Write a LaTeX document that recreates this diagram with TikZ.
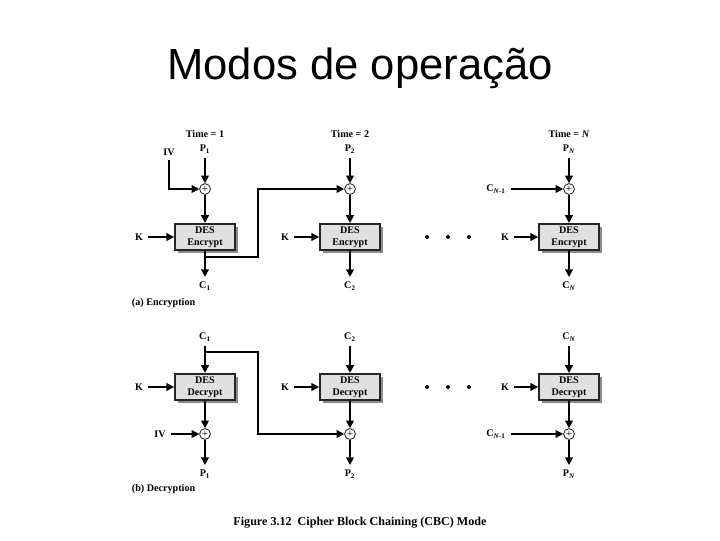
\documentclass[tikz,border=0pt]{standalone}
\usepackage{fontspec}
\setmainfont{Liberation Serif}
\newfontfamily\titlefont{Liberation Sans}
\usetikzlibrary{positioning,calc,arrows.meta,shadows}

\begin{document}
\begin{tikzpicture}[x=0.025cm,y=-0.025cm,
    font=\fontsize{7.2}{8.5}\selectfont\bfseries,
    >={Triangle[length=5.5pt,width=5.5pt]},
    desbox/.style={draw=black!85, line width=1.2pt, fill=black!12,
        minimum width=1.5cm, minimum height=0.66cm, align=center, inner sep=0pt,
        drop shadow={shadow xshift=2pt, shadow yshift=-2pt, fill=black!45, opacity=1}},
    xorop/.style={circle, draw, fill=white, minimum size=0.27cm, inner sep=0pt,
        line width=0.5pt, font=\fontsize{8}{8}\selectfont\mdseries},
    flow/.style={->, line width=1.2pt}]
    \useasboundingbox (0,0) rectangle (720,540);

    % Title
    \node[font=\titlefont\mdseries\fontsize{31}{36}\selectfont] (title) at (360,68) {Modos de operação};

    % Encryption, column 1
    \node (t1) at (205,134) {Time = 1};
    \node (p1) at (205,149) {P\textsubscript{1}};
    \node[xorop] (x1) at (205,189) {+};
    \node[desbox] (e1) at (205,237) {DES\\Encrypt};
    \node (c1) at (205,286) {C\textsubscript{1}};
    \node (iv1) at (169,152) {IV};
    \node (k1) at (139,237) {K};
    \draw[flow] (p1) -- (x1);
    \draw[flow] (x1) -- (e1);
    \draw[flow] (e1) -- (c1);
    \draw[flow] (iv1.south) |- (x1.west);
    \draw[flow] (k1) -- (e1);

    % Encryption, column 2
    \node (t2) at (350,134) {Time = 2};
    \node (p2) at (350,149) {P\textsubscript{2}};
    \node[xorop] (x2) at (350,189) {+};
    \node[desbox] (e2) at (350,237) {DES\\Encrypt};
    \node (c2) at (350,286) {C\textsubscript{2}};
    \node (k2) at (285,237) {K};
    \draw[flow] (p2) -- (x2);
    \draw[flow] (x2) -- (e2);
    \draw[flow] (e2) -- (c2);
    \draw[flow] (k2) -- (e2);

    % Encryption, column N
    \node (tn) at (569,134) {Time = \textit{N}};
    \node (pn) at (569,149) {P\textsubscript{\textit{N}}};
    \node[xorop] (xn) at (569,189) {+};
    \node[desbox] (en) at (569,237) {DES\\Encrypt};
    \node (cn) at (569,286) {C\textsubscript{\textit{N}}};
    \node (kn) at (505,237) {K};
    \node (cprev) at (496,189) {C\textsubscript{\textit{N}-1}};
    \draw[flow] (pn) -- (xn);
    \draw[flow] (xn) -- (en);
    \draw[flow] (en) -- (cn);
    \draw[flow] (kn) -- (en);
    \draw[flow] (cprev) -- (xn);

    % Chaining C1 -> column 2
    \coordinate (f1) at (205,257);
    \coordinate (f2) at (258,257);
    \draw[flow] (f1) -- (f2) |- (x2);

    % Dots
    \foreach \x in {427,448,469}
        \fill (\x,237) circle (2);

    \node[anchor=west] (enc) at (127,303) {(a) Encryption};

    % Decryption, column 1
    \node (dc1) at (205,337) {C\textsubscript{1}};
    \node[desbox] (d1) at (205,387) {DES\\Decrypt};
    \node[xorop] (dx1) at (205,434) {+};
    \node (dp1) at (205,474) {P\textsubscript{1}};
    \node (div) at (160,434) {IV};
    \node (dk1) at (139,387) {K};
    \draw[flow] (dc1) -- (d1);
    \draw[flow] (d1) -- (dx1);
    \draw[flow] (dx1) -- (dp1);
    \draw[flow] (div) -- (dx1);
    \draw[flow] (dk1) -- (d1);

    % Decryption, column 2
    \node (dc2) at (350,337) {C\textsubscript{2}};
    \node[desbox] (d2) at (350,387) {DES\\Decrypt};
    \node[xorop] (dx2) at (350,434) {+};
    \node (dp2) at (350,474) {P\textsubscript{2}};
    \node (dk2) at (285,387) {K};
    \draw[flow] (dc2) -- (d2);
    \draw[flow] (d2) -- (dx2);
    \draw[flow] (dx2) -- (dp2);
    \draw[flow] (dk2) -- (d2);

    % Decryption, column N
    \node (dcn) at (569,337) {C\textsubscript{\textit{N}}};
    \node[desbox] (dn) at (569,387) {DES\\Decrypt};
    \node[xorop] (dxn) at (569,434) {+};
    \node (dpn) at (569,474) {P\textsubscript{\textit{N}}};
    \node (dkn) at (505,387) {K};
    \node (dcprev) at (496,434) {C\textsubscript{\textit{N}-1}};
    \draw[flow] (dcn) -- (dn);
    \draw[flow] (dn) -- (dxn);
    \draw[flow] (dxn) -- (dpn);
    \draw[flow] (dkn) -- (dn);
    \draw[flow] (dcprev) -- (dxn);

    % Chaining C1 -> column 2
    \coordinate (g1) at (205,352);
    \coordinate (g2) at (258,352);
    \draw[flow] (g1) -- (g2) |- (dx2);

    % Dots
    \foreach \x in {427,448,469}
        \fill (\x,387) circle (2);

    \node[anchor=west] (dec) at (127,489) {(b) Decryption};

    % Caption
    \node[font=\fontsize{8.6}{10}\selectfont\bfseries] (cap) at (360,523) {Figure 3.12\ \ Cipher Block Chaining (CBC) Mode};
\end{tikzpicture}
\end{document}
